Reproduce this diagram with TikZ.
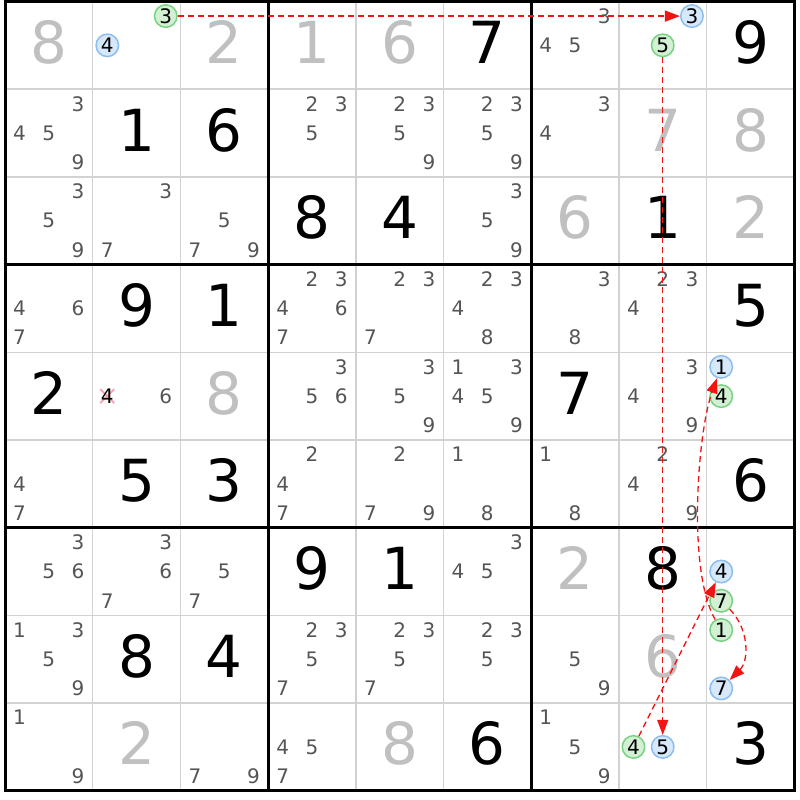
\documentclass[tikz,border=0pt]{standalone}
\usepackage{fontspec}
\setmainfont{DejaVu Sans}
\usetikzlibrary{arrows.meta}
\definecolor{thingrid}{RGB}{210,210,210}
\definecolor{solvedgray}{RGB}{192,192,192}
\definecolor{candgray}{RGB}{85,85,85}
\definecolor{bfill}{RGB}{214,232,250}
\definecolor{bline}{RGB}{140,190,240}
\definecolor{gfill}{RGB}{212,240,212}
\definecolor{gline}{RGB}{120,210,130}
\definecolor{arrred}{RGB}{240,20,20}
\definecolor{xpink}{RGB}{245,160,175}
\tikzset{
 given/.style={inner sep=0pt, text height=42pt, text depth=0pt, font=\fontsize{58}{58}\selectfont, text=black},
 solved/.style={given, text=solvedgray},
 cand/.style={inner sep=0pt, text height=14.5pt, text depth=0pt, font=\fontsize{20}{20}\selectfont, text=candgray},
 crossed/.style={cand, text=black},
 bcirc/.style={cand, text=black, circle, draw=bline, fill=bfill, line width=1.5pt, minimum size=22.5pt},
 gcirc/.style={bcirc, draw=gline, fill=gfill},
 thinline/.style={draw=thingrid, line width=1.5pt},
 thickline/.style={draw=black, line width=3pt},
 arr/.style={draw=arrred, line width=1.3pt, dash pattern=on 6pt off 4pt, -{Triangle[length=15pt,width=11pt]}},
 crossmark/.style={draw=xpink, line width=1.8pt}
}
\newcommand\putgiven[4]{\node[#4] (g#1#2) at ({5+(#2-0.5)*87.7},{798.5-(#1-0.5)*87.7+3}) {#3};}
\newcommand\putcand[4]{%
 \pgfmathtruncatemacro\kx{mod(#3-1,3)}%
 \pgfmathtruncatemacro\ky{(#3-1)/3}%
 \node[#4] (k#1#2#3) at ({5+(#2-1)*87.7+14.6+\kx*29.23},{798.5-(#1-1)*87.7-14.6-\ky*29.23}) {#3};}
\newcommand\putcands[3]{\foreach \dd in {#3}{\putcand{#1}{#2}{\dd}{cand}}}
\begin{document}
\begin{tikzpicture}[x=1pt,y=1pt]
\useasboundingbox (0,0) rectangle (800,800);
\fill[white] (0,0) rectangle (800,800);
% grid
\foreach \i in {1,2,4,5,7,8} {
 \draw[thinline] ({5+\i*87.7},798.5) -- ({5+\i*87.7},9.2);
 \draw[thinline] (5,{798.5-\i*87.7}) -- (794.3,{798.5-\i*87.7});
}
\foreach \i in {0,3,6,9} {
 \draw[thickline] ({5+\i*87.7},800) -- ({5+\i*87.7},7.7);
 \draw[thickline] (3.5,{798.5-\i*87.7}) -- (795.8,{798.5-\i*87.7});
}
% row 1
\putgiven{1}{1}{8}{solved}
\putcand{1}{2}{3}{gcirc}
\putcand{1}{2}{4}{bcirc}
\putgiven{1}{3}{2}{solved}
\putgiven{1}{4}{1}{solved}
\putgiven{1}{5}{6}{solved}
\putgiven{1}{6}{7}{given}
\putcands{1}{7}{3,4,5}
\putcand{1}{8}{3}{bcirc}
\putcand{1}{8}{5}{gcirc}
\putgiven{1}{9}{9}{given}
% row 2
\putcands{2}{1}{3,4,5,9}
\putgiven{2}{2}{1}{given}
\putgiven{2}{3}{6}{given}
\putcands{2}{4}{2,3,5}
\putcands{2}{5}{2,3,5,9}
\putcands{2}{6}{2,3,5,9}
\putcands{2}{7}{3,4}
\putgiven{2}{8}{7}{solved}
\putgiven{2}{9}{8}{solved}
% row 3
\putcands{3}{1}{3,5,9}
\putcands{3}{2}{3,7}
\putcands{3}{3}{5,7,9}
\putgiven{3}{4}{8}{given}
\putgiven{3}{5}{4}{given}
\putcands{3}{6}{3,5,9}
\putgiven{3}{7}{6}{solved}
\putgiven{3}{8}{1}{given}
\putgiven{3}{9}{2}{solved}
% row 4
\putcands{4}{1}{4,6,7}
\putgiven{4}{2}{9}{given}
\putgiven{4}{3}{1}{given}
\putcands{4}{4}{2,3,4,6,7}
\putcands{4}{5}{2,3,7}
\putcands{4}{6}{2,3,4,8}
\putcands{4}{7}{3,8}
\putcands{4}{8}{2,3,4}
\putgiven{4}{9}{5}{given}
% row 5
\putgiven{5}{1}{2}{given}
\coordinate (x524) at (107.3,403.9);
\draw[crossmark] ([shift={(-7pt,-7pt)}]x524) -- ([shift={(7pt,7pt)}]x524);
\draw[crossmark] ([shift={(-7pt,7pt)}]x524) -- ([shift={(7pt,-7pt)}]x524);
\putcand{5}{2}{4}{crossed}
\putcands{5}{2}{6}
\putgiven{5}{3}{8}{solved}
\putcands{5}{4}{3,5,6}
\putcands{5}{5}{3,5,9}
\putcands{5}{6}{1,3,4,5,9}
\putgiven{5}{7}{7}{given}
\putcands{5}{8}{3,4,9}
\putcand{5}{9}{1}{bcirc}
\putcand{5}{9}{4}{gcirc}
% row 6
\putcands{6}{1}{4,7}
\putgiven{6}{2}{5}{given}
\putgiven{6}{3}{3}{given}
\putcands{6}{4}{2,4,7}
\putcands{6}{5}{2,7,9}
\putcands{6}{6}{1,8}
\putcands{6}{7}{1,8}
\putcands{6}{8}{2,4,9}
\putgiven{6}{9}{6}{given}
% row 7
\putcands{7}{1}{3,5,6}
\putcands{7}{2}{3,6,7}
\putcands{7}{3}{5,7}
\putgiven{7}{4}{9}{given}
\putgiven{7}{5}{1}{given}
\putcands{7}{6}{3,4,5}
\putgiven{7}{7}{2}{solved}
\putgiven{7}{8}{8}{given}
\putcand{7}{9}{4}{bcirc}
\putcand{7}{9}{7}{gcirc}
% row 8
\putcands{8}{1}{1,3,5,9}
\putgiven{8}{2}{8}{given}
\putgiven{8}{3}{4}{given}
\putcands{8}{4}{2,3,5,7}
\putcands{8}{5}{2,3,5,7}
\putcands{8}{6}{2,3,5}
\putcands{8}{7}{5,9}
\putgiven{8}{8}{6}{solved}
\putcand{8}{9}{1}{gcirc}
\putcand{8}{9}{7}{bcirc}
% row 9
\putcands{9}{1}{1,9}
\putgiven{9}{2}{2}{solved}
\putcands{9}{3}{7,9}
\putcands{9}{4}{4,5,7}
\putgiven{9}{5}{8}{solved}
\putgiven{9}{6}{6}{given}
\putcands{9}{7}{1,5,9}
\putcand{9}{8}{4}{gcirc}
\putcand{9}{8}{5}{bcirc}
\putgiven{9}{9}{3}{given}
% arrows
\draw[arr] (k123) -- (k183);
\draw[arr] (k185) -- (k985);
\draw[arr] (k984) -- (k794);
\draw[arr] (k797) to[out=-45,in=45] (k897);
\draw[arr] (k891) to[out=120,in=-110,looseness=0.6] (k591);
\end{tikzpicture}
\end{document}
